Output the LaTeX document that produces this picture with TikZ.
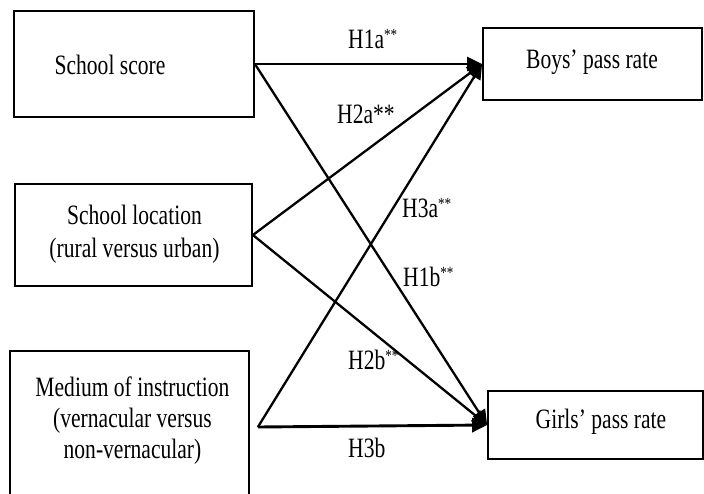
\documentclass[tikz,border=0pt]{standalone}
\usepackage{fontspec}
\setmainfont[FakeStretch=0.77]{Liberation Serif}
\usetikzlibrary{arrows.meta}
\newcommand\sigmark{\raisebox{8pt}{\fontsize{17}{17}\selectfont **}}
\begin{document}
\begin{tikzpicture}[x=1pt,y=-1pt,
  box/.style={draw,line width=1.8pt,inner sep=0pt},
  txt/.style={font=\fontsize{28}{33}\selectfont,align=center,inner sep=0pt},
  lab/.style={font=\fontsize{28}{33}\selectfont,inner sep=0pt,anchor=base west},
  arr/.style={line width=2.3pt,-{Triangle[length=15pt,width=14pt]}},
  harr/.style={arr,line width=2.9pt},
]
\useasboundingbox (0,0) rectangle (704,493);
\fill[white] (0,0) rectangle (704,493);
% boxes
\node[box,minimum width=240pt,minimum height=106pt] (score) at (134,64) {};
\node[box,minimum width=219pt,minimum height=72pt] (boys) at (592.5,64) {};
\node[box,minimum width=237pt,minimum height=102pt] (loc) at (133.5,235) {};
\node[box,minimum width=239pt,minimum height=152pt] (medium) at (129.5,427) {};
\node[box,minimum width=215pt,minimum height=68pt] (girls) at (595.5,425) {};
% texts
\node[txt] (scoret) at (110,65) {School score};
\node[txt] (boyst) at (592,62) {Boys’ pass rate};
\node[txt] (loct) at (134.5,234) {School location\\(rural versus urban)};
\node[txt,font=\fontsize{28}{31}\selectfont] (mediumt) at (132.5,421) {Medium of instruction\\(vernacular versus\\non-vernacular)};
\node[txt] (girlst) at (601,421.5) {Girls’ pass rate};
% connectors
\coordinate (mstart) at ([xshift=8pt]medium.east);
\draw[harr] (score.east) -- (boys.west);
\draw[arr] (score.east) -- (girls.west);
\draw[arr] (loc.east) -- (boys.west);
\draw[arr] (loc.east) -- (girls.west);
\draw[arr] (mstart) -- (boys.west);
\draw[harr] (mstart) -- (girls.west);
% labels
\node[lab] (h1a) at (348,48) {H1a\sigmark};
\node[lab] (h2a) at (337,123) {H2a**};
\node[lab] (h3a) at (402,217) {H3a\sigmark};
\node[lab] (h1b) at (403,286) {H1b\sigmark};
\node[lab] (h2b) at (348,369) {H2b\sigmark};
\node[lab] (h3b) at (348,457) {H3b};
\end{tikzpicture}
\end{document}
